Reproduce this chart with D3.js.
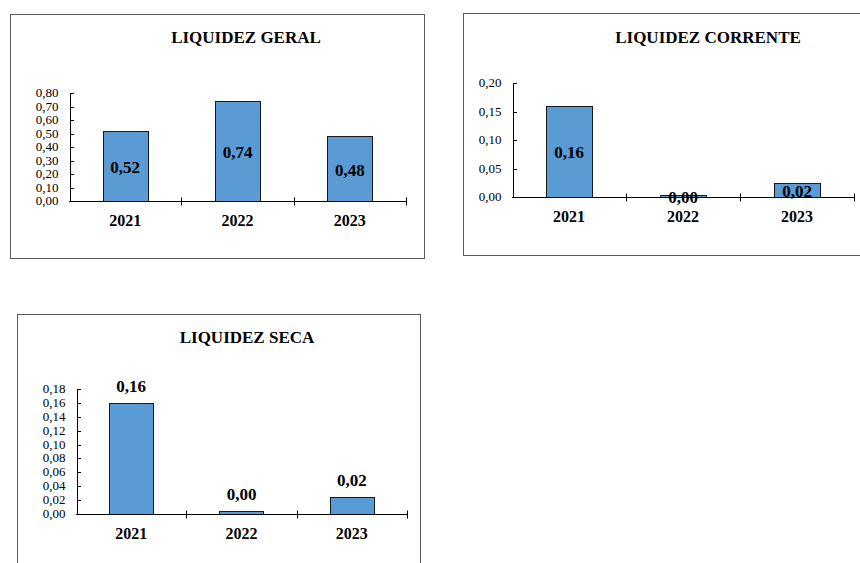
<!DOCTYPE html>
<html>
<head>
<meta charset="utf-8">
<script src="https://cdn.jsdelivr.net/npm/d3@7"></script>
<style>
  html, body { margin: 0; padding: 0; background: #fff; }
  svg { display: block; font-family: "Liberation Serif", "Times New Roman", serif; }
  .frame { fill: #fff; stroke: #595959; stroke-width: 1; }
  .axis path, .axis line { stroke: #000; stroke-width: 1; shape-rendering: crispEdges; }
  .axis text { font-family: "Liberation Serif", "Times New Roman", serif; font-size: 13px; fill: #000; }
  .bar { fill: #5b9bd5; stroke: #1a1a1a; stroke-width: 1; shape-rendering: crispEdges; }
  .title { font-size: 17px; font-weight: bold; fill: #000; }
  .cat-label { font-size: 16px; font-weight: bold; fill: #000; }
  .value-label { font-size: 17px; font-weight: bold; fill: #000; }
</style>
</head>
<body>
<svg id="chart" width="860" height="563"></svg>
<script>
const years = ["2021", "2022", "2023"];

const liquidezGeral = [0.52, 0.74, 0.48];
const liquidezCorrente = [0.16, 0.004, 0.024];
const liquidezSeca = [0.16, 0.004, 0.024];

const geralTicks = [0, 0.1, 0.2, 0.3, 0.4, 0.5, 0.6, 0.7, 0.8];
const correnteTicks = [0, 0.05, 0.1, 0.15, 0.2];
const secaTicks = [0, 0.02, 0.04, 0.06, 0.08, 0.1, 0.12, 0.14, 0.16, 0.18];

const fmt = (v) => d3.format(".2f")(v).replace(".", ",");

const panels = [
  {
    title: "LIQUIDEZ GERAL",
    values: liquidezGeral,
    ticks: geralTicks,
    frame: [10, 14, 424, 258],
    x: [69, 406],
    y: [201, 93],
    titleAt: [246, 43],
    labelMode: "inside",
  },
  {
    title: "LIQUIDEZ CORRENTE",
    values: liquidezCorrente,
    ticks: correnteTicks,
    frame: [463, 13, 875, 255],
    x: [512, 854],
    y: [197, 83],
    titleAt: [708, 43],
    labelMode: "inside",
  },
  {
    title: "LIQUIDEZ SECA",
    values: liquidezSeca,
    ticks: secaTicks,
    frame: [17, 314, 420, 575],
    x: [76, 407],
    y: [514, 389],
    titleAt: [247, 343],
    labelMode: "above",
  },
];

const svg = d3.select("#chart");

panels.forEach((p) => {
  const g = svg.append("g");
  const [fx0, fy0, fx1, fy1] = p.frame;

  g.append("rect")
    .attr("class", "frame")
    .attr("x", fx0 + 0.5)
    .attr("y", fy0 + 0.5)
    .attr("width", fx1 - fx0)
    .attr("height", fy1 - fy0);

  g.append("text")
    .attr("class", "title")
    .attr("x", p.titleAt[0])
    .attr("y", p.titleAt[1])
    .attr("text-anchor", "middle")
    .text(p.title);

  const xScale = d3.scaleBand().domain(years).range(p.x).paddingInner(0.6).paddingOuter(0.3);
  const yScale = d3.scaleLinear()
    .domain([0, p.ticks[p.ticks.length - 1]])
    .range(p.y);
  const step = xScale.step();

  // bars first, axes drawn over them
  g.selectAll(".bar")
    .data(p.values)
    .join("rect")
    .attr("class", "bar")
    .attr("x", (d, i) => Math.round(xScale(years[i])) + 0.5)
    .attr("y", (d) => Math.round(yScale(d)) + 0.5)
    .attr("width", Math.round(xScale.bandwidth()))
    .attr("height", (d) => Math.round(yScale(0)) - Math.round(yScale(d)));

  // y axis, ticks crossing the line; labels squeezed a little like the original
  const axisY = g.append("g")
    .attr("class", "axis")
    .attr("transform", `translate(${Math.round(p.x[0]) + 0.5},0)`)
    .call(d3.axisLeft(yScale).tickValues(p.ticks).tickSizeInner(4).tickSizeOuter(0).tickPadding(7).tickFormat(fmt));
  axisY.selectAll(".tick line").attr("x2", 4);
  axisY.selectAll(".tick").attr("transform", (d) => `translate(0,${Math.round(yScale(d)) + 0.5})`);
  axisY.selectAll(".tick text").attr("dy", "0.34em").attr("transform", "scale(1,0.9)");

  // x axis with boundary ticks between categories
  const y0 = Math.round(yScale(0)) + 0.5;
  g.append("line")
    .attr("class", "axis-line")
    .attr("x1", p.x[0]).attr("x2", p.x[1])
    .attr("y1", y0).attr("y2", y0)
    .attr("stroke", "#000");
  g.selectAll(".xtick")
    .data(years)
    .join("line")
    .attr("stroke", "#000")
    .attr("x1", (d, i) => Math.round(p.x[0] + step * (i + 1)) + 0.5)
    .attr("x2", (d, i) => Math.round(p.x[0] + step * (i + 1)) + 0.5)
    .attr("y1", y0 - 4)
    .attr("y2", y0 + 4);

  g.selectAll(".cat-label")
    .data(years)
    .join("text")
    .attr("class", "cat-label")
    .attr("x", (d) => xScale(d) + xScale.bandwidth() / 2)
    .attr("y", y0 + 24)
    .attr("text-anchor", "middle")
    .text((d) => d);

  g.selectAll(".value-label")
    .data(p.values)
    .join("text")
    .attr("class", "value-label")
    .attr("x", (d, i) => xScale(years[i]) + xScale.bandwidth() / 2)
    .attr("y", (d) => p.labelMode === "inside"
      ? (yScale(d) + yScale(0)) / 2 + 7
      : yScale(d) - 11)
    .attr("text-anchor", "middle")
    .text((d) => fmt(d));
});
</script>
</body>
</html>
